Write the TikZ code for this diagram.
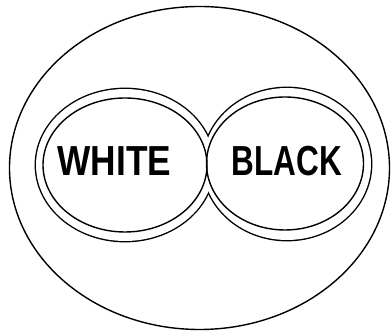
\documentclass[tikz,border=0pt]{standalone}
\usepackage{fontspec}
\setmainfont{Liberation Sans}
\newfontfamily\labfont{Liberation Sans}
\begin{document}
\begin{tikzpicture}[x=1pt,y=1pt,
  lw/.style={line width=1.4pt},
  lab/.style={inner sep=0pt,font=\labfont\bfseries\fontsize{42}{42}\selectfont}]
\useasboundingbox (0,0) rectangle (391,331);
\draw[lw] (199.5,163) ellipse [x radius=190, y radius=161.5];
% outer union outline
\draw[line width=2.8pt] (125,166) ellipse [x radius=89, y radius=76];
\draw[line width=2.8pt] (287,167) ellipse [x radius=84, y radius=76];
\fill[white] (125,166) ellipse [x radius=89, y radius=76];
\fill[white] (287,167) ellipse [x radius=84, y radius=76];
% inner ellipses
\draw[lw] (125,166) ellipse [x radius=82, y radius=67];
\draw[lw] (285,167.5) ellipse [x radius=78.5, y radius=66.5];
\node[lab] (white) at (114.5,170) {\scalebox{0.84}[1]{WHITE}};
\node[lab] (black) at (287,170) {\scalebox{0.75}[1]{BLACK}};
\end{tikzpicture}
\end{document}
